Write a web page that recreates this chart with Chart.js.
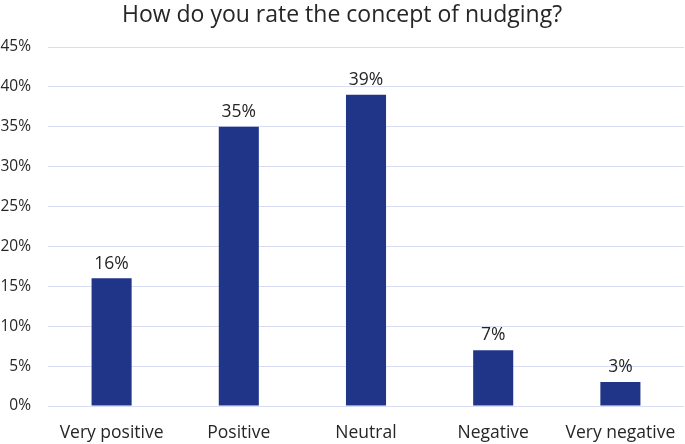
<!DOCTYPE html>
<html>
<head>
<meta charset="utf-8">
<script src="https://cdn.jsdelivr.net/npm/chart.js@4"></script>
<style>
  html, body { margin: 0; padding: 0; background: #fff; }
  #wrap { width: 685px; height: 444px; }
</style>
</head>
<body>
<div id="wrap"><canvas id="myChart" width="685" height="444"></canvas></div>
<script>
var categories = ["Very positive", "Positive", "Neutral", "Negative", "Very negative"];
var shares = [16, 35, 39, 7, 3];
var yTicks = [0, 5, 10, 15, 20, 25, 30, 35, 40, 45];

var barColor = "#203588";
var gridColor = "#d9ddf4";
var textColor = "#262626";
var fontFam = "'Open Sans', 'Noto Sans', sans-serif";

// labels above each bar
var barLabels = {
  id: "barLabels",
  afterDatasetsDraw: function (chart) {
    var ctx = chart.ctx;
    var meta = chart.getDatasetMeta(0);
    ctx.save();
    ctx.font = "17.5px " + fontFam;
    ctx.fillStyle = textColor;
    ctx.textAlign = "center";
    ctx.textBaseline = "bottom";
    meta.data.forEach(function (bar, i) {
      ctx.fillText(shares[i] + "%", bar.x, bar.y - 6);
    });
    ctx.restore();
  }
};

new Chart("myChart", {
  type: "bar",
  data: {
    labels: categories,
    datasets: [{
      data: shares,
      backgroundColor: barColor,
      barPercentage: 0.315,
      categoryPercentage: 1
    }]
  },
  options: {
    responsive: false,
    animation: false,
    layout: { padding: { left: 0, right: 1, top: 0, bottom: 0 } },
    plugins: {
      legend: { display: false },
      tooltip: { enabled: false },
      title: {
        display: true,
        text: "How do you rate the concept of nudging?",
        color: textColor,
        font: { family: fontFam, size: 23, weight: "normal" },
        padding: { top: 1.5, bottom: 17.9 }
      }
    },
    scales: {
      x: {
        grid: { display: false },
        border: { display: false },
        ticks: { color: textColor, font: { family: fontFam, size: 17.5 }, padding: 9, maxRotation: 0 },
        afterFit: function (s) { s.height = 38; }
      },
      y: {
        min: 0,
        max: 45,
        afterBuildTicks: function (s) {
          s.ticks = yTicks.map(function (v) { return { value: v }; });
        },
        grid: { color: gridColor, lineWidth: 1, drawTicks: false },
        border: { display: false },
        ticks: {
          color: textColor,
          font: { family: fontFam, size: 15.5 },
          padding: 17,
          callback: function (v) { return v + "%"; }
        },
        afterFit: function (s) { s.width = 48; }
      }
    }
  },
  plugins: [barLabels]
});
</script>
</body>
</html>
